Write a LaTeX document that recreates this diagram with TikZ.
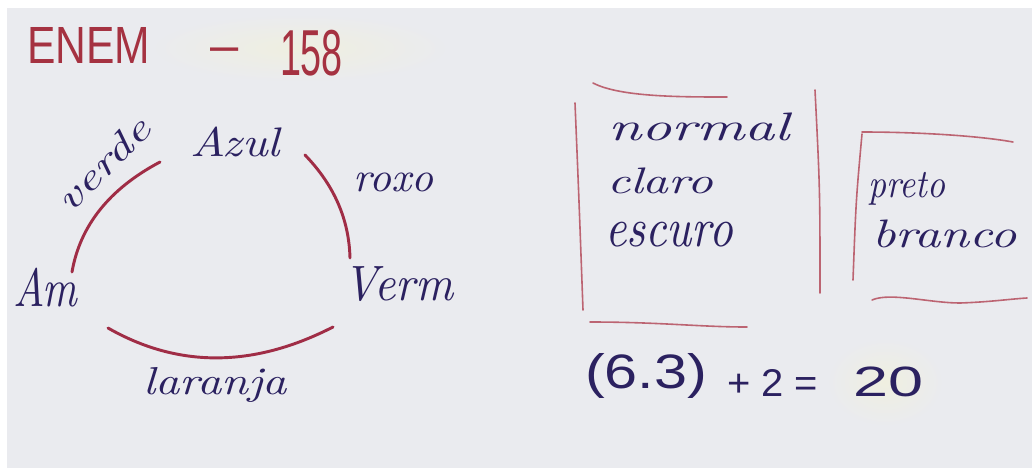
\documentclass[tikz,border=0pt]{standalone}
\usepackage{fontspec}
\usepackage{graphicx}
\newfontfamily\printfont{Liberation Sans}
\newlength\px \setlength\px{0.75pt}
\newcommand\fitto[3]{\resizebox*{#1\px}{#2\px}{#3}}
\definecolor{paper}{HTML}{EAEBEF}
\definecolor{hl}{HTML}{EFEFE0}
\definecolor{titlered}{HTML}{A53241}
\definecolor{ink}{HTML}{2B2160}
\definecolor{arcred}{HTML}{A02D46}
\definecolor{boxred}{HTML}{BC6472}
\begin{document}
\begin{tikzpicture}[x=0.75pt,y=-0.75pt,
  txt/.style={inner sep=0pt, outer sep=0pt, anchor=north west, text=ink, font=\itshape},
  ttl/.style={inner sep=0pt, outer sep=0pt, anchor=north west, text=titlered, font=\printfont},
  eq/.style={inner sep=0pt, outer sep=0pt, anchor=north west, text=ink, font=\printfont},
  arcline/.style={draw=arcred, line width=2.2pt, line cap=round},
  boxline/.style={draw=boxred, line width=1.2pt, line cap=round}]
\useasboundingbox (0,0) rectangle (1032,469);
\fill[white] (0,0) rectangle (1032,469);
\fill[paper] (7,8) rectangle (1032,468);
% soft highlights
\begin{scope}
\clip (7,8) rectangle (1032,468);
\shade[inner color=hl, outer color=paper] (300,48) ellipse (150 and 34);
\shade[inner color=hl, outer color=paper] (885,382) ellipse (58 and 44);
\end{scope}

% title
\node[ttl] (enem) at (27,27) {\fitto{123}{36}{ENEM}};
\node[inner sep=0pt, anchor=base, text=titlered, font=\printfont\fontsize{38}{38}\selectfont] (dash) at (225,62) {–};
\node[ttl] (num) at (280,30) {\fitto{63}{46}{158}};

% colour triangle
\node[txt] (azul) at (190,127) {\fitto{90}{30}{Azul}};
\node[txt] (am) at (13,268) {\fitto{64}{39}{Am}};
\node[txt] (verm) at (343,267) {\fitto{110}{35}{Verm}};
\node[txt, anchor=center, rotate=45] (verde) at (103,164) {\fitto{117}{26}{verde}};
\node[txt] (roxo) at (353,173) {\fitto{80}{19}{roxo}};
\node[txt] (laranja) at (143,367) {\fitto{144}{35}{laranja}};

\coordinate (v1) at (160,162);
\coordinate (v2) at (72,272);
\coordinate (r1) at (305,155);
\coordinate (r2) at (350,258);
\coordinate (l1) at (108,328);
\coordinate (l2) at (333,327);
\draw[arcline] (v1) .. controls (109,189) and (80,226) .. (v2);
\draw[arcline] (r1) .. controls (334,185) and (349,219) .. (r2);
\draw[arcline] (l1) .. controls (178,368) and (253,368) .. (l2);

% boxes
\coordinate (a1) at (593,83);  \coordinate (a2) at (727,97);
\coordinate (a3) at (575,103); \coordinate (a4) at (583,310);
\coordinate (a5) at (815,90);  \coordinate (a6) at (820,293);
\coordinate (a7) at (590,322); \coordinate (a8) at (747,327);
\draw[boxline] (a1) .. controls (620,97) and (680,97) .. (a2);
\draw[boxline] (a3) .. controls (579,200) .. (a4);
\draw[boxline] (a5) .. controls (820,190) .. (a6);
\draw[boxline] (a7) .. controls (660,322) and (700,327) .. (a8);

\coordinate (b1) at (862,132); \coordinate (b2) at (1013,142);
\coordinate (b3) at (862,134); \coordinate (b4) at (853,280);
\coordinate (b5) at (872,300); \coordinate (b6) at (960,303); \coordinate (b7) at (1027,298);
\draw[boxline] (b1) .. controls (920,132) and (980,136) .. (b2);
\draw[boxline] (b3) .. controls (856,200) .. (b4);
\draw[boxline] (b5) .. controls (890,292) and (930,303) .. (b6) .. controls (990,302) and (1010,299) .. (b7);

\node[txt] (normal) at (608,113) {\fitto{182}{28}{normal}};
\node[txt] (claro) at (607,168) {\fitto{106}{26}{claro}};
\node[txt] (escuro) at (605,222) {\fitto{128}{25}{escuro}};
\node[txt] (preto) at (868,172) {\fitto{77}{33}{preto}};
\node[txt] (branco) at (872,220) {\fitto{145}{28}{branco}};

% equation
\node[eq] (paren) at (585,353) {\fitto{122}{45}{(6.3)}};
\node[eq] (plus) at (727,369) {\fitto{91}{27}{+ 2 =}};
\node[eq] (res) at (853,367) {\fitto{70}{30}{20}};
\end{tikzpicture}
\end{document}
